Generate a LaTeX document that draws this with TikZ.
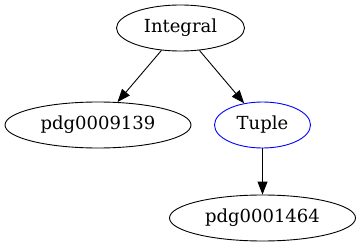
\documentclass[tikz,border=0pt]{standalone}
\usepackage{fontspec}
\setmainfont{DejaVu Serif}
\usetikzlibrary{shapes.geometric,arrows.meta}
\begin{document}
\begin{tikzpicture}[x=1pt,y=-1pt,
  gnode/.style={ellipse,draw=black,line width=0.9pt,inner sep=0pt,font=\fontsize{18pt}{20pt}\selectfont},
  edge/.style={draw=black,line width=0.9pt,-{Triangle[length=13pt,width=10pt]}}]
\useasboundingbox (0,0) rectangle (361,251);
\node[gnode,minimum width=128pt,minimum height=46pt] (integral) at (180.5,28) {Integral};
\node[gnode,minimum width=186pt,minimum height=46pt] (p9139) at (98,125) {pdg0009139};
\node[gnode,draw=blue,minimum width=96pt,minimum height=46pt] (tuple) at (262.5,125) {Tuple};
\node[gnode,minimum width=186pt,minimum height=46pt] (p1464) at (262.5,218) {pdg0001464};
\draw[edge] (integral) -- (p9139);
\draw[edge] (integral) -- (tuple);
\draw[edge] (tuple) -- (p1464);
\end{tikzpicture}
\end{document}
